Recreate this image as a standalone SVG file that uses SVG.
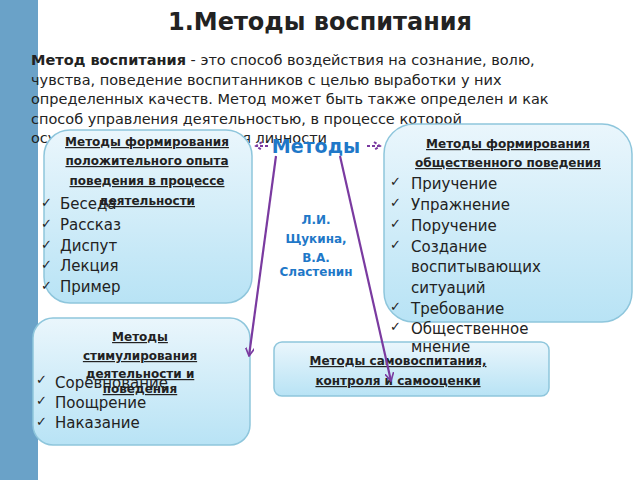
<svg xmlns="http://www.w3.org/2000/svg" width="640" height="480" viewBox="0 0 640 480">
<defs>
<linearGradient id="g" x1="0" y1="0" x2="0" y2="1"><stop offset="0" stop-color="#eaf6fc"/><stop offset="1" stop-color="#b8e3f5"/></linearGradient>
<marker id="ah" viewBox="0 0 10 10" refX="9" refY="5" markerWidth="9" markerHeight="9" orient="auto" markerUnits="userSpaceOnUse"><path d="M0,0 L9,5 L0,10" fill="none" stroke="#7a3aa0" stroke-width="1.8"/></marker>
</defs>
<style>
text{font-family:"DejaVu Sans",sans-serif;fill:#222}
.box{fill:url(#g);stroke:#8ec6dc;stroke-width:1.5}
.h{font-size:12px;font-weight:bold;text-decoration:underline;text-anchor:middle}
.i{font-size:15px}
.c{font-size:13px}
.con{stroke:#7a3aa0;stroke-width:2.2;fill:none}
.b{fill:#1f78c8}
</style>
<rect width="640" height="480" fill="#fff"/>
<rect x="0" y="0" width="38" height="480" fill="#6aa2c8"/>
<text x="320" y="30" font-size="24" font-weight="bold" text-anchor="middle">1.Методы воспитания</text>
<g font-size="14.5">
<text x="31" y="65"><tspan font-weight="bold">Метод воспитания</tspan> - это способ воздействия на сознание, волю,</text>
<text x="31" y="85">чувства, поведение воспитанников с целью выработки у них</text>
<text x="31" y="104">определенных качеств. Метод может быть также определен и как</text>
<text x="31" y="124">способ управления деятельностью, в процессе которой</text>
<text x="31" y="143">осуществляется реализация личности</text>
</g>
<g id="center">
<text x="316" y="153" font-size="19" font-weight="bold" text-anchor="middle" class="b">Методы</text>
<g font-size="12" font-weight="bold" text-anchor="middle">
<text x="316" y="224" class="b">Л.И.</text>
<text x="316" y="243" class="b">Щукина,</text>
<text x="316" y="262" class="b">В.А.</text>
<text x="316" y="276" class="b">Сластенин</text>
</g>
</g>
<g id="n1">
<rect class="box" x="44" y="130" width="208" height="173" rx="26"/>
<text class="h" x="147" y="146">Методы формирования</text>
<text class="h" x="147" y="165">положительного опыта</text>
<text class="h" x="147" y="185">поведения в процессе</text>
<text class="h" x="147" y="205">деятельности</text>
<text x="41" y="207" class="c">✓</text><text x="41" y="228" class="c">✓</text><text x="41" y="249" class="c">✓</text><text x="41" y="269" class="c">✓</text><text x="41" y="290" class="c">✓</text>
<text class="i" x="60" y="209">Беседа</text>
<text class="i" x="60" y="230">Рассказ</text>
<text class="i" x="60" y="251">Диспут</text>
<text class="i" x="60" y="271">Лекция</text>
<text class="i" x="60" y="292">Пример</text>
</g>
<g id="n2">
<rect class="box" x="384" y="124" width="248" height="198" rx="30"/>
<text class="h" x="508" y="148">Методы формирования</text>
<text class="h" x="508" y="167">общественного поведения</text>
<text x="390" y="186" class="c">✓</text><text x="390" y="207" class="c">✓</text><text x="390" y="228" class="c">✓</text><text x="390" y="249" class="c">✓</text><text x="390" y="311" class="c">✓</text><text x="390" y="331" class="c">✓</text>
<text class="i" x="411" y="189">Приучение</text>
<text class="i" x="411" y="210">  Упражнение</text>
<text class="i" x="411" y="231">Поручение</text>
<text class="i" x="411" y="252">Создание</text>
<text class="i" x="411" y="272">воспитывающих</text>
<text class="i" x="411" y="293">ситуаций</text>
<text class="i" x="411" y="314">Требование</text>
<text class="i" x="411" y="334">Общественное</text>
</g>
<g id="n3">
<rect class="box" x="33" y="318" width="217" height="127" rx="20"/>
<text class="h" x="140" y="341">Методы</text>
<text class="h" x="140" y="360">стимулирования</text>
<text class="h" x="140" y="378">деятельности и</text>
<text class="h" x="140" y="393">поведения</text>
<text x="36" y="384" class="c">✓</text><text x="36" y="405" class="c">✓</text><text x="36" y="426" class="c">✓</text>
<text class="i" x="55" y="388">Соревнование</text>
<text class="i" x="55" y="408">Поощрение</text>
<text class="i" x="55" y="428">Наказание</text>
</g>
<g id="n4">
<rect class="box" x="274" y="342" width="275" height="54" rx="8"/>
<text class="i" x="411" y="352">мнение</text>
<text class="h" x="398" y="365">Методы самовоспитания,</text>
<text class="h" x="398" y="385">контроля и самооценки</text>
</g>
<g id="connectors">
<line class="con" x1="276" y1="156" x2="249" y2="356" marker-end="url(#ah)"/>
<line class="con" x1="340" y1="156" x2="391" y2="381" marker-end="url(#ah)"/>
<path d="M268,146 H256 M262,142 L256,146 L262,150" stroke="#7a3aa0" stroke-width="2" fill="none" stroke-dasharray="3,2"/>
<path d="M367,146 H380 M374,142 L380,146 L374,150" stroke="#7a3aa0" stroke-width="2" fill="none" stroke-dasharray="3,2"/>
</g>
</svg>
